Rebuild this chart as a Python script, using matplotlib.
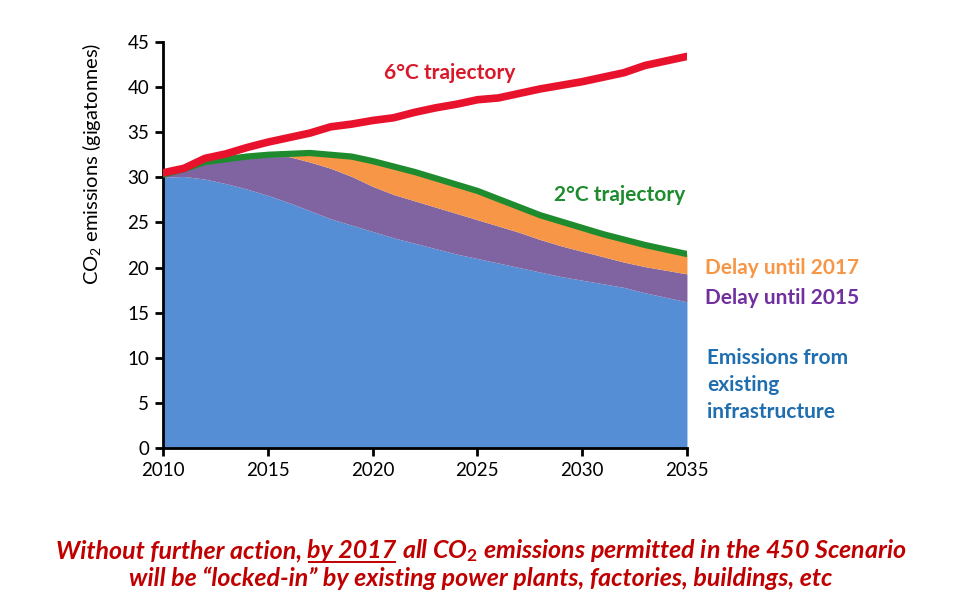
import matplotlib
matplotlib.use("Agg")
import matplotlib.pyplot as plt
from matplotlib.transforms import IdentityTransform

plt.rcParams['font.family'] = ['Lato', 'DejaVu Sans']
plt.rcParams['mathtext.fontset'] = 'custom'
plt.rcParams['mathtext.rm'] = 'Lato'
plt.rcParams['mathtext.it'] = 'Lato:italic'
plt.rcParams['mathtext.bf'] = 'Lato:bold'

# ---------------- data ----------------
years = list(range(2010, 2036))
six_deg = [30.5, 31.0, 32.1, 32.6, 33.3, 33.9, 34.4, 34.9, 35.6, 35.9, 36.3, 36.6, 37.2,
           37.7, 38.1, 38.6, 38.8, 39.3, 39.8, 40.2, 40.6, 41.1, 41.6, 42.4, 42.9, 43.4]
two_deg = [30.3, 30.9, 31.7, 32.0, 32.3, 32.5, 32.6, 32.7, 32.5, 32.3, 31.8, 31.2, 30.6,
           29.9, 29.2, 28.5, 27.6, 26.7, 25.8, 25.1, 24.4, 23.7, 23.1, 22.5, 22.0, 21.5]
delay_2015_top = [30.3, 30.9, 31.6, 31.9, 32.2, 32.3, 32.3, 31.7, 31.0, 30.1, 29.0, 28.1, 27.4,
                  26.7, 26.0, 25.3, 24.6, 23.9, 23.1, 22.4, 21.8, 21.2, 20.6, 20.1, 19.7, 19.3]
existing = [30.0, 30.1, 29.8, 29.3, 28.7, 28.0, 27.2, 26.3, 25.4, 24.7, 24.0, 23.3, 22.7,
            22.1, 21.5, 21.0, 20.5, 20.0, 19.5, 19.0, 18.6, 18.2, 17.8, 17.2, 16.7, 16.2]
x_ticks = [2010, 2015, 2020, 2025, 2030, 2035]
y_ticks = [0, 5, 10, 15, 20, 25, 30, 35, 40, 45]

# ---------------- colours ----------------
c_blue = '#558ED5'
c_purple = '#8064A2'
c_orange = '#F79646'
c_green = '#1E8C2E'
c_red = '#E8122D'

fig = plt.figure(figsize=(9.67, 6.06), dpi=100)
ax = fig.add_axes([0.1686, 0.2607, 0.5418, 0.67])

ax.fill_between(years, 0, existing, color=c_blue, linewidth=0)
ax.fill_between(years, existing, delay_2015_top, color=c_purple, linewidth=0)
ax.fill_between(years, delay_2015_top, two_deg, color=c_orange, linewidth=0)
ax.plot(years, two_deg, color=c_green, linewidth=4.5, solid_capstyle='round', zorder=3)
ax.plot(years, six_deg, color=c_red, linewidth=5.5, solid_capstyle='round', zorder=4)

ax.set_xlim(2010, 2035)
ax.set_ylim(0, 45)
ax.set_xticks(x_ticks)
ax.set_yticks(y_ticks)
for s in ['top', 'right']:
    ax.spines[s].set_visible(False)
for s in ['left', 'bottom']:
    ax.spines[s].set_linewidth(2)
    ax.spines[s].set_color('black')
ax.tick_params(axis='both', direction='out', length=6, width=2, labelsize=13.5, pad=4)
ax.set_ylabel('CO$_2$ emissions (gigatonnes)', fontsize=14.5)
ax.yaxis.set_label_coords(-0.115, 0.70)

ax.text(2023.7, 41.6, '6°C trajectory', color='#D9182A', fontsize=15, fontweight='bold',
        ha='center', va='center')
ax.text(2031.8, 28.0, '2°C trajectory', color='#1E8C2E', fontsize=15, fontweight='bold',
        ha='center', va='center')
ax.text(2035.85, 19.9, 'Delay until 2017', color='#F79646', fontsize=15, fontweight='bold',
        ha='left', va='center', clip_on=False)
ax.text(2035.85, 16.6, 'Delay until 2015', color='#7030A0', fontsize=15, fontweight='bold',
        ha='left', va='center', clip_on=False)
ax.text(2035.95, 7.0, 'Emissions from\nexisting\ninfrastructure', color='#1F6EB0', fontsize=15,
        fontweight='bold', ha='left', va='center', linespacing=1.45, clip_on=False)

# ---------------- caption with underline ----------------
cap_color = '#C00000'
cap_fs = 18
renderer = fig.canvas.get_renderer()
H = 606
def place_pieces(pieces, y_px, underline_idx=None):
    texts = []
    x = 0
    for p in pieces:
        t = fig.text(x, y_px, p, transform=IdentityTransform(), fontsize=cap_fs,
                     fontweight='bold', fontstyle='italic', color=cap_color, va='baseline')
        bb = t.get_window_extent(renderer)
        texts.append((t, bb.width))
        x += bb.width
    total = x
    start = 481 - total / 2
    x = start
    for i, (t, w) in enumerate(texts):
        t.set_x(x)
        if i == underline_idx:
            fig.add_artist(plt.Line2D([x + 2, x + w - 1], [y_px - 4, y_px - 4],
                                      transform=IdentityTransform(), color=cap_color, linewidth=1.4))
        x += w

place_pieces(['Without further action,', ' ', 'by 2017', ' ', r'all CO$_\mathbf{2}$ emissions permitted in the 450 Scenario'],
             H - 558, underline_idx=2)
place_pieces(['will be \u201clocked-in\u201d by existing power plants, factories, buildings, etc'], H - 586)

fig.savefig('out.png', dpi=100)
